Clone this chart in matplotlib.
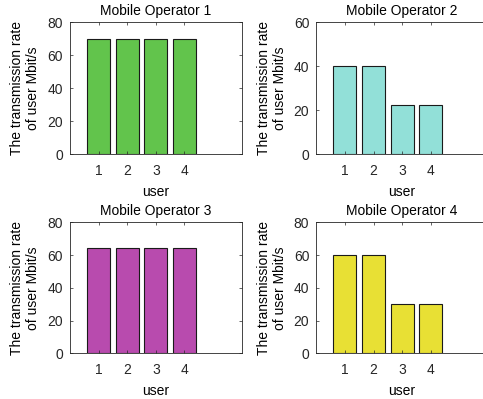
import matplotlib.pyplot as plt

plt.rcParams['font.family'] = ['Liberation Sans', 'DejaVu Sans']

# 各事業者のユーザー別伝送レート
users = [1, 2, 3, 4]
rate_op1 = [70, 70, 70, 70]
rate_op2 = [40, 40, 22.5, 22.5]
rate_op3 = [64.5, 64.5, 64.5, 64.5]
rate_op4 = [60, 60, 30, 30]

list_rates = [rate_op1, rate_op2, rate_op3, rate_op4]
list_titles = ["Mobile Operator 1", "Mobile Operator 2",
               "Mobile Operator 3", "Mobile Operator 4"]
list_ylim = [80, 60, 80, 80]
list_colors = ["#62c44c", "#92e0d8", "#b84bae", "#e8e034"]

fig = plt.figure(figsize=(4.83, 3.99), dpi=100)

W, H = 483, 399
# 軸の位置 (ピクセル: 左, 上, 右, 下)
list_box = [(70, 22.3, 241.7, 154), (316.3, 22.3, 488, 154),
            (70, 222.3, 241.7, 353.3), (316.3, 222.3, 488, 353.3)]

fs = 10
for rates, title, ymax, color, box in zip(list_rates, list_titles, list_ylim, list_colors, list_box):
    l, t, r, b = box
    ax = fig.add_axes([l / W, (H - b) / H, (r - l) / W, (b - t) / H])
    ax.bar(users, rates, width=0.8, color=color, edgecolor="#1a1a1a", linewidth=0.8)
    ax.set_xlim(0, 6)
    ax.set_ylim(0, ymax)
    ax.set_xticks(users)
    ax.set_yticks(range(0, ymax + 1, 20))
    ax.tick_params(direction="in", top=True, right=True, length=2.5, width=0.5,
                   labelsize=fs, colors="#262626", pad=5)
    ax.tick_params(axis="x", pad=7)
    for sp in ax.spines.values():
        sp.set_color("#262626")
        sp.set_linewidth(0.6)
    ax.set_title(title, fontsize=fs, pad=5, color="black")
    ax.set_xlabel("user", fontsize=fs, labelpad=5)
    ax.set_ylabel("The transmission rate\nof user Mbit/s", fontsize=fs, labelpad=5)

fig.savefig("out.png", dpi=100)
